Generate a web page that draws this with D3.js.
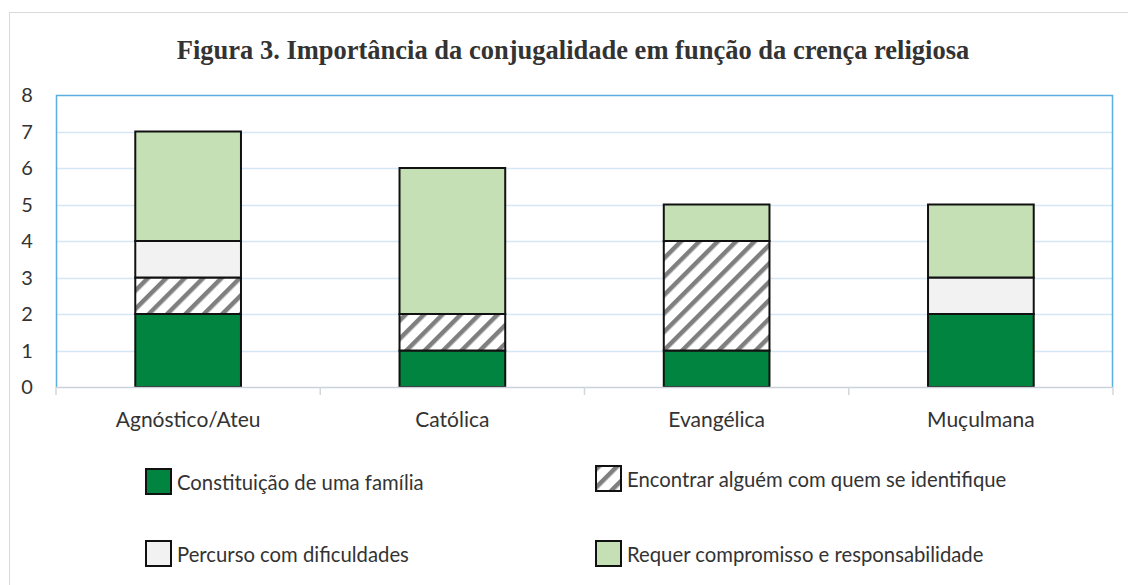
<!DOCTYPE html>
<html>
<head>
<meta charset="utf-8">
<script src="https://cdn.jsdelivr.net/npm/d3@7"></script>
<style>
  body { margin: 0; background: #fff; }
  svg { display: block; }
</style>
</head>
<body>
<div id="chart"></div>
<script>
// Categories and series
const categories = ["Agnóstico/Ateu", "Católica", "Evangélica", "Muçulmana"];
const seriesNames = [
    "Constituição de uma família",
    "Encontrar alguém com quem se identifique",
    "Percurso com dificuldades",
    "Requer compromisso e responsabilidade"
];
const constituicao = [2, 1, 1, 2];
const encontrar = [1, 1, 3, 0];
const percurso = [1, 0, 0, 1];
const requer = [3, 4, 1, 2];
const yTicks = [0, 1, 2, 3, 4, 5, 6, 7, 8];

const title = "Figura 3. Importância da conjugalidade em função da crença religiosa";

const width = 1128, height = 585;
const plot = { left: 56, top: 95, right: 1113, bottom: 387 };
const sansFont = "Lato, 'Open Sans', sans-serif";

const svg = d3.select("#chart").append("svg")
    .attr("width", width)
    .attr("height", height);

// Hatch pattern for "Encontrar..."
const defs = svg.append("defs");
const pat = defs.append("pattern")
    .attr("id", "hatch")
    .attr("patternUnits", "userSpaceOnUse")
    .attr("width", 13)
    .attr("height", 13)
    .attr("patternTransform", "rotate(45)");
pat.append("rect").attr("width", 13).attr("height", 13).attr("fill", "#fff");
pat.append("rect").attr("x", 0).attr("width", 4.5).attr("height", 13).attr("fill", "#7f7f7f");

const fills = ["#00843f", "url(#hatch)", "#f2f2f2", "#c5e0b4"];

// Outer chart frame
svg.append("rect")
    .attr("x", 9.5).attr("y", 12.5)
    .attr("width", 1125).attr("height", 590)
    .attr("fill", "none")
    .attr("stroke", "#d9d9d9");

// Title
svg.append("text")
    .attr("x", 573)
    .attr("y", 59)
    .attr("text-anchor", "middle")
    .attr("font-family", "'Liberation Serif', 'Times New Roman', serif")
    .attr("font-weight", "bold")
    .attr("font-size", "26.5px")
    .attr("fill", "#333")
    .text(title);

// Scales
const x = d3.scaleBand()
    .domain(categories)
    .range([plot.left, plot.right])
    .paddingInner(0.6)
    .paddingOuter(0.3);

const y = d3.scaleLinear()
    .domain([0, 8])
    .range([plot.bottom, plot.top]);

// Gridlines
svg.append("g")
    .selectAll("line")
    .data(yTicks.filter(d => d > 0 && d < 8))
    .join("line")
    .attr("x1", plot.left).attr("x2", plot.right)
    .attr("y1", d => Math.round(y(d)) + 0.5)
    .attr("y2", d => Math.round(y(d)) + 0.5)
    .attr("stroke", "#d5e7f5")
    .attr("stroke-width", 1.5);

// Plot border (left, top, right in blue)
svg.append("path")
    .attr("d", `M${plot.left + 0.5},${plot.bottom} V${plot.top + 0.5} H${plot.right - 0.5} V${plot.bottom}`)
    .attr("fill", "none")
    .attr("stroke", "#5aaee0")
    .attr("stroke-width", 1.5);

// Y tick labels
svg.append("g")
    .selectAll("text")
    .data(yTicks)
    .join("text")
    .attr("x", 27)
    .attr("y", d => y(d))
    .attr("dy", "0.35em")
    .attr("text-anchor", "middle")
    .attr("font-family", sansFont)
    .attr("font-size", "20px")
    .attr("fill", "#333")
    .text(d => d);

// Stacked bars
const rows = categories.map((c, i) => ({
    cat: c,
    [seriesNames[0]]: constituicao[i],
    [seriesNames[1]]: encontrar[i],
    [seriesNames[2]]: percurso[i],
    [seriesNames[3]]: requer[i]
}));
const stacked = d3.stack().keys(seriesNames)(rows);

const barG = svg.append("g");
stacked.forEach((layer, si) => {
    barG.append("g")
        .selectAll("rect")
        .data(layer.filter(d => d[1] - d[0] > 0))
        .join("rect")
        .attr("x", d => x(d.data.cat))
        .attr("y", d => y(d[1]))
        .attr("width", x.bandwidth())
        .attr("height", d => y(d[0]) - y(d[1]))
        .attr("fill", fills[si])
        .attr("stroke", "#111")
        .attr("stroke-width", 2);
});

// X axis line and ticks
const axisG = svg.append("g");
axisG.append("line")
    .attr("x1", plot.left).attr("x2", plot.right)
    .attr("y1", plot.bottom + 0.5).attr("y2", plot.bottom + 0.5)
    .attr("stroke", "#c9d2da")
    .attr("stroke-width", 1.5);
const boundaries = d3.range(categories.length + 1).map(i => plot.left + i * (plot.right - plot.left) / categories.length);
axisG.selectAll("line.tick")
    .data(boundaries)
    .join("line")
    .attr("class", "tick")
    .attr("x1", d => d).attr("x2", d => d)
    .attr("y1", plot.bottom).attr("y2", plot.bottom + 8)
    .attr("stroke", "#d0d7dd")
    .attr("stroke-width", 1.5);

// X labels
axisG.selectAll("text")
    .data(categories)
    .join("text")
    .attr("x", d => x(d) + x.bandwidth() / 2)
    .attr("y", 427)
    .attr("text-anchor", "middle")
    .attr("font-family", sansFont)
    .attr("font-size", "21px")
    .attr("fill", "#333")
    .text(d => d);

// Legend
const legendPos = [
    { x: 146, y: 469 },
    { x: 596, y: 466 },
    { x: 146, y: 541 },
    { x: 596, y: 541 }
];
const legend = svg.append("g")
    .selectAll("g")
    .data(seriesNames)
    .join("g")
    .attr("transform", (d, i) => `translate(${legendPos[i].x},${legendPos[i].y})`);
legend.append("rect")
    .attr("width", 25).attr("height", 25)
    .attr("fill", (d, i) => fills[i])
    .attr("stroke", "#111")
    .attr("stroke-width", 2);
legend.append("text")
    .attr("x", 31)
    .attr("y", 14)
    .attr("dy", "0.35em")
    .attr("font-family", sansFont)
    .attr("font-size", "20.3px")
    .attr("fill", "#333")
    .text(d => d);
</script>
</body>
</html>
